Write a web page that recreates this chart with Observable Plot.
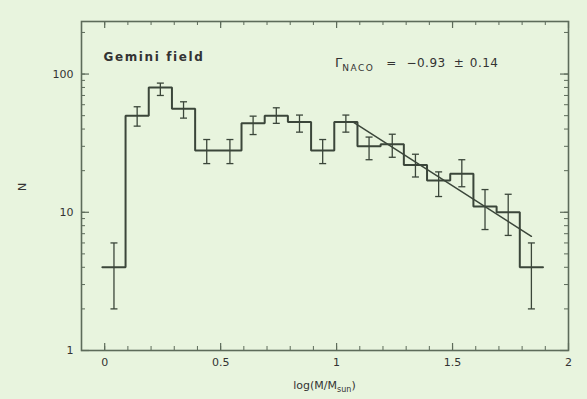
<!DOCTYPE html>
<html>
<head>
<meta charset="utf-8">
<script src="https://cdn.jsdelivr.net/npm/d3@7"></script>
<script src="https://cdn.jsdelivr.net/npm/@observablehq/plot@0.6"></script>
<style>
  html, body { margin: 0; padding: 0; background: #e8f4de; }
  #chart svg { display: block; }
</style>
</head>
<body>
<div id="chart"></div>
<script>
// ---- data ----
const logM   = [0.04, 0.14, 0.24, 0.34, 0.44, 0.54, 0.64, 0.74, 0.84, 0.94, 1.04, 1.14, 1.24, 1.34, 1.44, 1.54, 1.64, 1.74, 1.84];
const counts = [4, 50, 80, 56, 28, 28, 44, 50, 45, 28, 45, 30, 31, 22, 17, 19, 11, 10, 4];
const errLo  = [2, 42, 70, 48, 22.5, 22.5, 36.5, 44, 38, 22.5, 38, 24, 25, 18, 13, 15.3, 7.5, 6.8, 2];
const errHi  = [6, 58, 86, 63, 33.6, 33.6, 49.6, 57, 50.5, 33.6, 50.5, 35, 36.7, 26.3, 19.6, 24, 14.6, 13.5, 6];
const fitX   = [1.07, 1.84];
const fitN   = [45, 6.7];
const xTickLabels = [0, 0.5, 1, 1.5, 2];
const yTickLabels = [1, 10, 100];
const binWidth = 0.1;

// ---- derived tables ----
const bins = logM.map((x, i) => ({x, n: counts[i], lo: errLo[i], hi: errHi[i]}));
const stairs = bins.flatMap(d => [{x: d.x - binWidth / 2, n: d.n}, {x: d.x + binWidth / 2, n: d.n}]);
const fit = fitX.map((x, i) => ({x, n: fitN[i]}));
const xMinor = d3.range(0, 21).map(i => i / 10);
const yMinor = [1, 10, 100].flatMap(b => d3.range(1, 10).map(k => k * b)).filter(v => v <= 240);

const W = 587, H = 399, mL = 81, mR = 19, mT = 21, mB = 49;
const iw = W - mL - mR, ih = H - mT - mB;
const ink = "#3b463a", frameInk = "#5d6b5a";
const capHalf = 3.5 * 2.1 / iw;

const plot = Plot.plot({
  width: W, height: H,
  marginLeft: mL, marginRight: mR, marginTop: mT, marginBottom: mB,
  style: {background: "#e8f4de", fontFamily: "DejaVu Sans, sans-serif", color: ink},
  x: {domain: [-0.1, 2.0]},
  y: {type: "log", domain: [1, 240]},
  marks: [
    // axis tick labels
    Plot.axisX(xTickLabels, {tickSize: 0, tickPadding: 8, fontSize: 11, label: null, tickFormat: d => String(d), fill: "#333"}),
    Plot.axisY(yTickLabels, {tickSize: 0, tickPadding: 8, fontSize: 11, label: null, tickFormat: d => String(d), fill: "#333"}),
    // inward ticks on all four sides
    Plot.tickX(xMinor, {x: d => d, insetTop: ih - 4, stroke: frameInk, strokeWidth: 1}),
    Plot.tickX(xMinor, {x: d => d, insetBottom: ih - 4, stroke: frameInk, strokeWidth: 1}),
    Plot.tickX(xTickLabels, {x: d => d, insetTop: ih - 7, stroke: frameInk, strokeWidth: 1.2}),
    Plot.tickX(xTickLabels, {x: d => d, insetBottom: ih - 7, stroke: frameInk, strokeWidth: 1.2}),
    Plot.tickY(yMinor, {y: d => d, insetRight: iw - 4, stroke: frameInk, strokeWidth: 1}),
    Plot.tickY(yMinor, {y: d => d, insetLeft: iw - 4, stroke: frameInk, strokeWidth: 1}),
    Plot.tickY(yTickLabels, {y: d => d, insetRight: iw - 8, stroke: frameInk, strokeWidth: 1.2}),
    Plot.tickY(yTickLabels, {y: d => d, insetLeft: iw - 8, stroke: frameInk, strokeWidth: 1.2}),
    Plot.frame({stroke: frameInk, strokeWidth: 1.6}),
    // histogram
    Plot.line(stairs, {x: "x", y: "n", stroke: ink, strokeWidth: 2, strokeLinejoin: "miter"}),
    // error bars
    Plot.link(bins, {x1: "x", x2: "x", y1: "lo", y2: "hi", stroke: ink, strokeWidth: 1.3}),
    Plot.link(bins, {x1: d => d.x - capHalf, x2: d => d.x + capHalf, y1: "hi", y2: "hi", stroke: ink, strokeWidth: 1.3}),
    Plot.link(bins, {x1: d => d.x - capHalf, x2: d => d.x + capHalf, y1: "lo", y2: "lo", stroke: ink, strokeWidth: 1.3}),
    // power-law fit
    Plot.line(fit, {x: "x", y: "n", stroke: ink, strokeWidth: 1.5}),
    // labels
    Plot.text(["Gemini field"], {frameAnchor: "top-left", dx: 22, dy: 31, fontSize: 12, fill: "#333", textAnchor: "start"}),
    Plot.text(["N"], {frameAnchor: "left", dx: -59, dy: 5, rotate: -90, fontSize: 11, fill: "#333"})
  ]
});

const svg = d3.select(plot);
svg.selectAll("g[aria-label='text'] text").filter(function() { return this.textContent === "Gemini field"; })
  .attr("letter-spacing", "1.6px").style("font-weight", "bold");

// Gamma annotation with subscript
const g = svg.append("text")
  .attr("x", 335).attr("y", 67)
  .attr("text-anchor", "start")
  .attr("font-size", 12).attr("fill", "#333")
  .attr("font-family", "DejaVu Sans, sans-serif");
g.append("tspan").attr("font-size", 13).text("Γ");
g.append("tspan").attr("dy", 4).attr("font-size", 9).attr("letter-spacing", "1.5px").text("NACO");
g.append("tspan").attr("dy", -4).attr("dx", 12).text("=");
g.append("tspan").attr("dx", 10).attr("letter-spacing", "0.5px").text("−0.93");
g.append("tspan").attr("dx", 8).text("±");
g.append("tspan").attr("dx", 6).attr("letter-spacing", "0.5px").text("0.14");

// x label with subscript
const xl = svg.append("text")
  .attr("x", mL + iw / 2).attr("y", 389)
  .attr("text-anchor", "middle")
  .attr("font-size", 11).attr("fill", "#333")
  .attr("font-family", "DejaVu Sans, sans-serif");
xl.append("tspan").text("log(M/M");
xl.append("tspan").attr("dy", 3).attr("font-size", 8).text("sun");
xl.append("tspan").attr("dy", -3).text(")");

document.getElementById("chart").appendChild(plot);
</script>
</body>
</html>
